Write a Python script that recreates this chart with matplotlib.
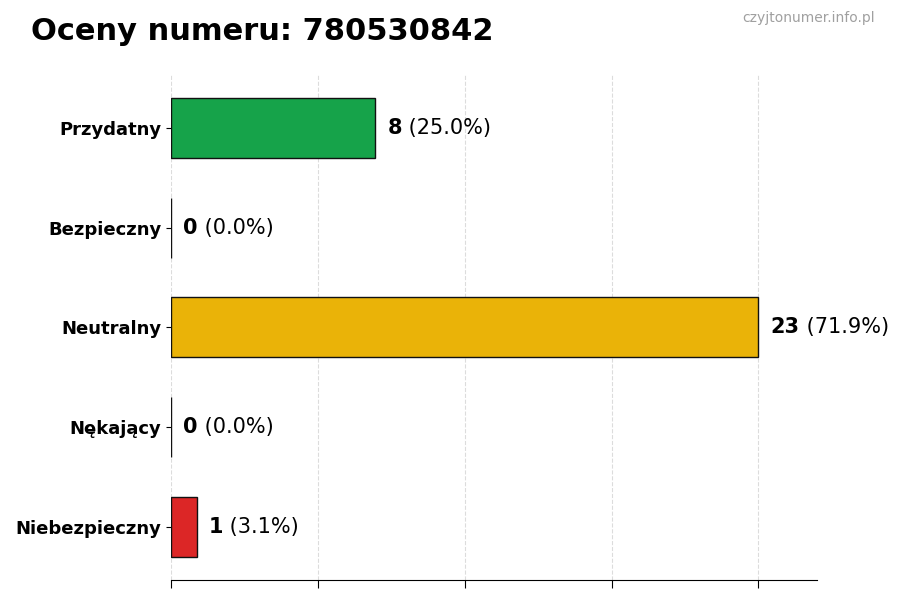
import matplotlib
matplotlib.use("Agg")
import matplotlib.pyplot as plt
import numpy as np

categories = ["Przydatny", "Bezpieczny", "Neutralny", "Nękający", "Niebezpieczny"]
counts = [8, 0, 23, 0, 1]
colors = ["#16a34a", "#16a34a", "#eab308", "#dc2626", "#dc2626"]
title = "Oceny numeru: 780530842"
watermark = "czyjtonumer.info.pl"

total = sum(counts)

fig = plt.figure(figsize=(9, 6), dpi=100)
ax = fig.add_axes([0.19, 0.0333, 0.718, 0.842])

y = np.arange(len(categories))
ax.barh(y, counts, height=0.6, color=colors, edgecolor="#111111", linewidth=1, zorder=3)
ax.set_yticks(y)
ax.set_yticklabels(categories, fontsize=13, fontweight="bold")
ax.invert_yaxis()

xmax = max(counts) * 1.1
ax.set_xlim(0, xmax)
ax.set_xticks(np.linspace(0, max(counts), 5))
ax.set_xticklabels([])
ax.grid(axis="x", linestyle="--", color="#dcdcdc", linewidth=0.8, zorder=0)

for s in ("top", "right", "left"):
    ax.spines[s].set_visible(False)
ax.tick_params(axis="x", length=6)

off = max(counts) * 0.021
for yi, c in zip(y, counts):
    pct = 100 * c / total if total else 0
    t = ax.text(c + off, yi, str(c), va="center", ha="left", fontsize=15, fontweight="bold")
    ax.annotate(f" ({pct:.1f}%)", xy=(1, 0.5), xycoords=t, va="center", ha="left", fontsize=15)

fig.text(0.034, 0.948, title, fontsize=22, fontweight="bold", va="center", ha="left")
fig.text(0.972, 0.97, watermark, fontsize=10, color="#a0a0a0", va="center", ha="right")

fig.savefig("out.png")
